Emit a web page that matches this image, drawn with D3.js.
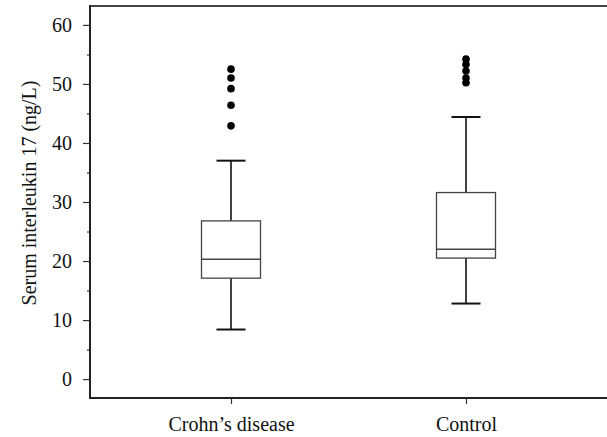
<!DOCTYPE html>
<html><head><meta charset="utf-8">
<script src="https://cdn.jsdelivr.net/npm/d3@7"></script>
<style>body{margin:0;background:#fff}svg{display:block}text{font-family:"Liberation Serif","DejaVu Serif",serif;fill:#111}</style>
</head><body>
<svg id="c" width="607" height="437"></svg>
<script>
const categories = ["Crohn\u2019s disease", "Control"];
const q1 = [17.1, 20.5];
const median = [20.3, 22.0];
const q3 = [26.8, 31.6];
const whiskerLow = [8.4, 12.8];
const whiskerHigh = [37.0, 44.4];
const outliers = [[42.9, 46.4, 49.2, 51.0, 52.5], [50.2, 51.0, 52.2, 53.3, 54.2]];
const yTicks = [0, 10, 20, 30, 40, 50, 60];
const yMinorTicks = [5, 15, 25, 35, 45, 55];
const yLabel = "Serum interleukin 17 (ng/L)";

const FS = "20px";
const svg = d3.select("#c");
const L = 90, R = 607, T = 6, B = 398;
const y = d3.scaleLinear().domain([-3.2, 63.2]).range([B, T]);
const x = d3.scalePoint().domain(categories).range([L, R]).padding(0.6);

// frame
svg.append("line").attr("x1", L).attr("x2", R).attr("y1", T).attr("y2", T).attr("stroke", "#444").attr("stroke-width", 2);
// y axis
const ya = svg.append("g").attr("transform", `translate(${L},0)`)
  .call(d3.axisLeft(y).tickValues(yTicks).tickSize(7).tickPadding(11).tickSizeOuter(0));
ya.select(".domain").remove();
ya.selectAll(".tick line").attr("stroke", "#333").attr("stroke-width", 1.2);
ya.selectAll(".tick text").style("font-size", FS).style("font-family", "Liberation Serif, serif").attr("fill", "#111");
svg.append("g").attr("transform", `translate(${L},0)`)
  .call(d3.axisLeft(y).tickValues(yMinorTicks).tickSize(3).tickFormat(""))
  .call(g => g.select(".domain").remove())
  .selectAll(".tick line").attr("stroke", "#333").attr("stroke-width", 1.2);
svg.append("line").attr("x1", L).attr("x2", L).attr("y1", T - 1).attr("y2", B + 1).attr("stroke", "#222").attr("stroke-width", 2);

// x axis
const xa = svg.append("g").attr("transform", `translate(0,${B})`)
  .call(d3.axisBottom(x).tickSize(6).tickPadding(13).tickSizeOuter(0));
xa.select(".domain").remove();
xa.selectAll(".tick line").attr("stroke", "#333").attr("stroke-width", 1.2);
xa.selectAll(".tick text").style("font-size", FS).style("font-family", "Liberation Serif, serif").attr("fill", "#111");
svg.append("line").attr("x1", L - 1).attr("x2", R).attr("y1", B).attr("y2", B).attr("stroke", "#222").attr("stroke-width", 2);

// y label
svg.append("text").attr("transform", `translate(36,193) rotate(-90)`)
  .attr("text-anchor", "middle").style("font-size", FS).text(yLabel);

// boxes
const bw = 59, cw = 29;
categories.forEach((c, i) => {
  const cx = x(c);
  const g = svg.append("g");
  g.append("line").attr("x1", cx).attr("x2", cx).attr("y1", y(whiskerHigh[i])).attr("y2", y(q3[i])).attr("stroke", "#111").attr("stroke-width", 1.6);
  g.append("line").attr("x1", cx).attr("x2", cx).attr("y1", y(q1[i])).attr("y2", y(whiskerLow[i])).attr("stroke", "#111").attr("stroke-width", 1.6);
  [whiskerHigh[i], whiskerLow[i]].forEach(v => {
    g.append("line").attr("x1", cx - cw / 2).attr("x2", cx + cw / 2).attr("y1", y(v)).attr("y2", y(v)).attr("stroke", "#111").attr("stroke-width", 2);
  });
  g.append("rect").attr("x", cx - bw / 2).attr("width", bw).attr("y", y(q3[i])).attr("height", y(q1[i]) - y(q3[i]))
    .attr("fill", "#fff").attr("stroke", "#444").attr("stroke-width", 1.3);
  g.append("line").attr("x1", cx - bw / 2).attr("x2", cx + bw / 2).attr("y1", y(median[i])).attr("y2", y(median[i])).attr("stroke", "#444").attr("stroke-width", 1.3);
  g.selectAll("circle").data(outliers[i]).join("circle").attr("cx", cx).attr("cy", d => y(d)).attr("r", 3.8).attr("fill", "#000");
});
</script>
</body></html>
